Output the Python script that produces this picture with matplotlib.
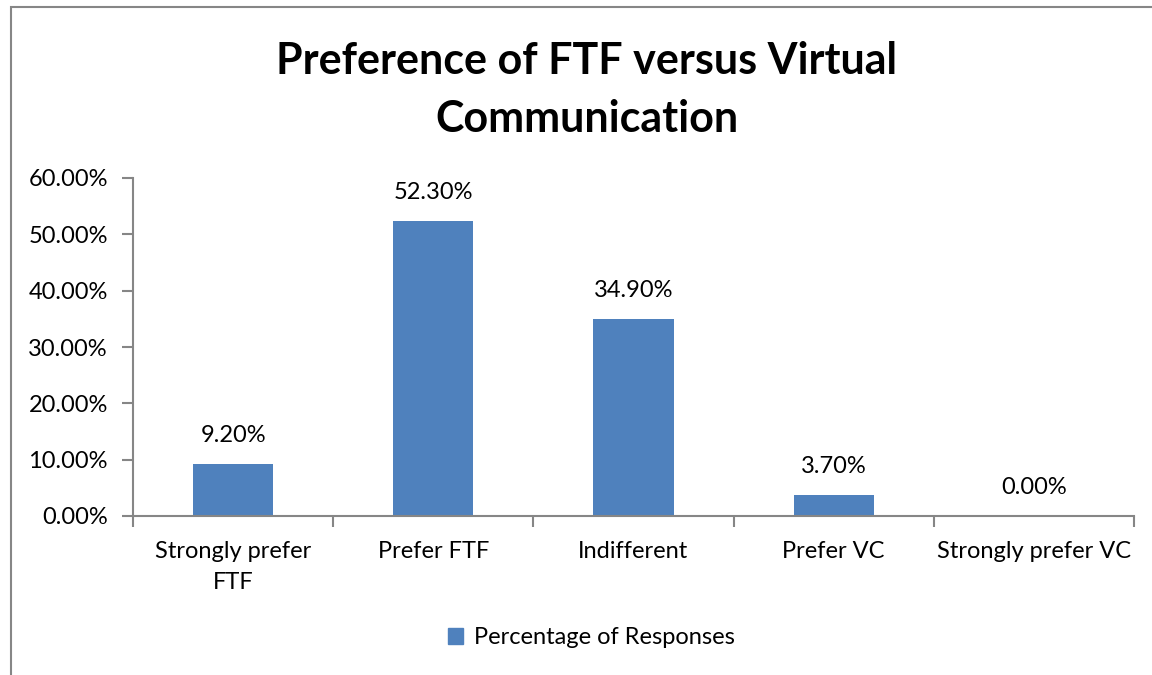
import matplotlib
matplotlib.use("Agg")
import matplotlib.pyplot as plt
from matplotlib.patches import Rectangle, Patch
from matplotlib.ticker import FuncFormatter, FixedLocator

categories = ["Strongly prefer\nFTF", "Prefer FTF", "Indifferent", "Prefer VC", "Strongly prefer VC"]
values = [9.20, 52.30, 34.90, 3.70, 0.00]
yticks = [0, 10, 20, 30, 40, 50, 60]
series_name = "Percentage of Responses"
title = "Preference of FTF versus Virtual\nCommunication"

plt.rcParams['font.family'] = ['Lato', 'DejaVu Sans']
bar_color = "#4F81BD"
axis_color = "#868686"

fig = plt.figure(figsize=(11.52, 6.75), dpi=100)
fig.patches.append(Rectangle((11/1152, -0.1), 1.2, 1 - 7/675 + 0.1, transform=fig.transFigure,
                             fill=False, edgecolor=axis_color, linewidth=1.5))

ax = fig.add_axes([133/1152, 1 - 516/675, 1001/1152, 338/675])
x = list(range(len(categories)))
ax.bar(x, values, width=0.4, color=bar_color, zorder=2)
ax.set_xlim(-0.5, len(categories) - 0.5)
ax.set_ylim(0, 60)
ax.set_yticks(yticks)
ax.yaxis.set_major_formatter(FuncFormatter(lambda v, p: f"{v:.2f}%"))
ax.set_xticks(x)
ax.set_xticklabels(categories, fontsize=17, linespacing=1.6)
ax.tick_params(axis='x', length=0, pad=18)
ax.xaxis.set_minor_locator(FixedLocator([i - 0.5 for i in range(len(categories) + 1)]))
ax.tick_params(axis='x', which='minor', length=8, color=axis_color, width=1.5)
ax.tick_params(axis='y', length=8, color=axis_color, width=1.5, labelsize=17, pad=10)
for s in ['top', 'right']:
    ax.spines[s].set_visible(False)
for s in ['left', 'bottom']:
    ax.spines[s].set_color(axis_color)
    ax.spines[s].set_linewidth(1.5)

for xi, v in zip(x, values):
    ax.annotate(f"{v:.2f}%", (xi, v), xytext=(0, 13), textcoords='offset points',
                ha='center', va='bottom', fontsize=17)

fig.text(587/1152, 1 - 90/675, title, ha='center', va='center', fontsize=31,
         fontweight='bold', linespacing=1.55)

ax.legend(handles=[Patch(color=bar_color, label=series_name)], loc='center',
          bbox_to_anchor=(591/1152, 1 - 638/675), bbox_transform=fig.transFigure,
          frameon=False, fontsize=17, handlelength=0.65, handleheight=0.65, handletextpad=0.45)

fig.savefig("out.png", dpi=100)
